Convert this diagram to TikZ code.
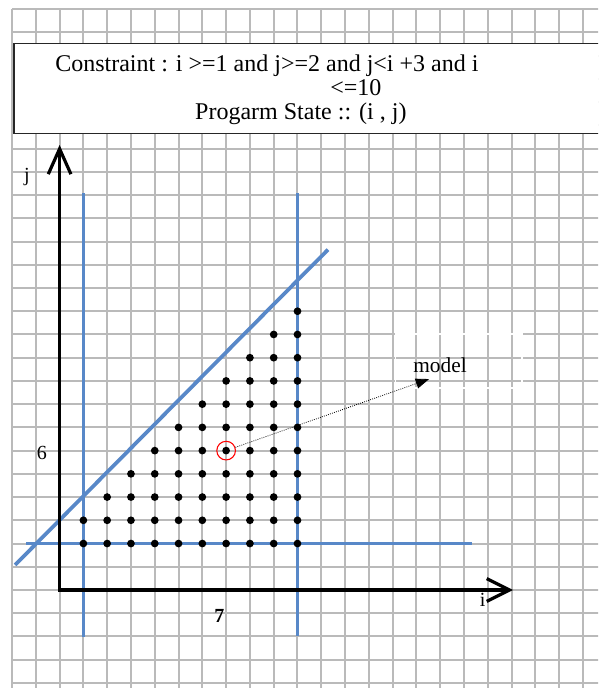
\documentclass[tikz,border=0pt]{standalone}
\usepackage{fontspec}
\setmainfont{Liberation Serif}
\usepackage{xcolor}
\usetikzlibrary{arrows.meta,positioning,calc}
\definecolor{gridgray}{RGB}{186,186,186}
\definecolor{cblue}{RGB}{88,136,200}

\begin{document}
\begin{tikzpicture}[x=17.84pt, y=17.42pt,
    gridline/.style={draw=gridgray, line width=1.5pt},
    bound/.style={draw=cblue, line width=2.8pt},
    axis/.style={line width=2.4pt, line join=miter,
        arrows={Straight Barb[length=19pt,width=17pt]-Straight Barb[length=17pt,width=17pt]}},
    state/.style={circle, fill=black, inner sep=0pt, minimum size=5.8pt},
    lbl/.style={font=\fontsize{15}{15}\selectfont, inner sep=0pt, anchor=base},
    hdr/.style={font=\fontsize{18}{18}\selectfont, inner sep=0pt, anchor=base west}]
    \useasboundingbox (-2.505,-4.219) rectangle (22.632,25.398);
    \clip (-2.505,-4.219) rectangle (22.632,25.398);

    % grid paper
    \foreach \x in {-2,...,22}
        \draw[gridline] (\x,-4.4) -- (\x,25);
    \foreach \y in {-4,...,25}
        \draw[gridline] (-2,\y) -- (22.8,\y);

    % constraint box
    \draw[fill=white, draw=black!85, line width=0.9pt] (-1.917,19.66) rectangle (23,23.53);
    \node[hdr] (cons1) at (-0.193,22.30) {Constraint : i >=1 and j>=2 and j<i +3 and i};
    \node[hdr] (cons2) at (11.37,21.27) {<=10};
    \node[hdr] (pstate) at (5.69,20.25) {Progarm State :: (i , j)};

    % bounds
    \draw[bound] (1,17.1) -- (1,-2.03);
    \draw[bound] (10,17.1) -- (10,-1.98);
    \draw[bound] (-1.41,2) -- (17.33,2);
    \draw[bound] (-1.87,1.08) -- (11.28,14.65);

    % axes
    \coordinate (O) at (0,0);
    \coordinate (jtop) at (0,19.16);
    \coordinate (iend) at (19.06,0);
    \draw[axis] (jtop) -- (O) -- (iend);
    \node[lbl] (jlabel) at (-1.37,17.6) {j};
    \node[lbl] (ilabel) at (17.78,-0.73) {i};
    \node[lbl] (six) at (-0.74,5.6) {6};
    \node[lbl, font=\fontsize{15}{15}\selectfont\bfseries] (seven) at (6.72,-1.38) {7};

    % reachable states
    \foreach \i in {1,...,10} {
        \pgfmathtruncatemacro{\jmax}{\i+2}
        \foreach \j in {2,...,\jmax}
            \node[state] (s\i-\j) at (\i,\j) {};
    }

    % picked state -> model
    \node[circle, draw=red, line width=0.8pt, minimum size=14pt, inner sep=0pt] (sel) at (7,6) {};
    \node[draw=white, line width=1pt, minimum width=95pt, minimum height=40.5pt] (mbox) at (16.77,9.86) {};
    \node[font=\fontsize{16}{16}\selectfont, inner sep=0pt, anchor=base west] (model) at (14.86,9.36) {model};
    \coordinate (mtip) at (15.53,9.08);
    \draw[densely dotted, line width=0.6pt, -{Triangle[length=10pt,width=7.5pt]}] (sel) -- (mtip);
\end{tikzpicture}
\end{document}
